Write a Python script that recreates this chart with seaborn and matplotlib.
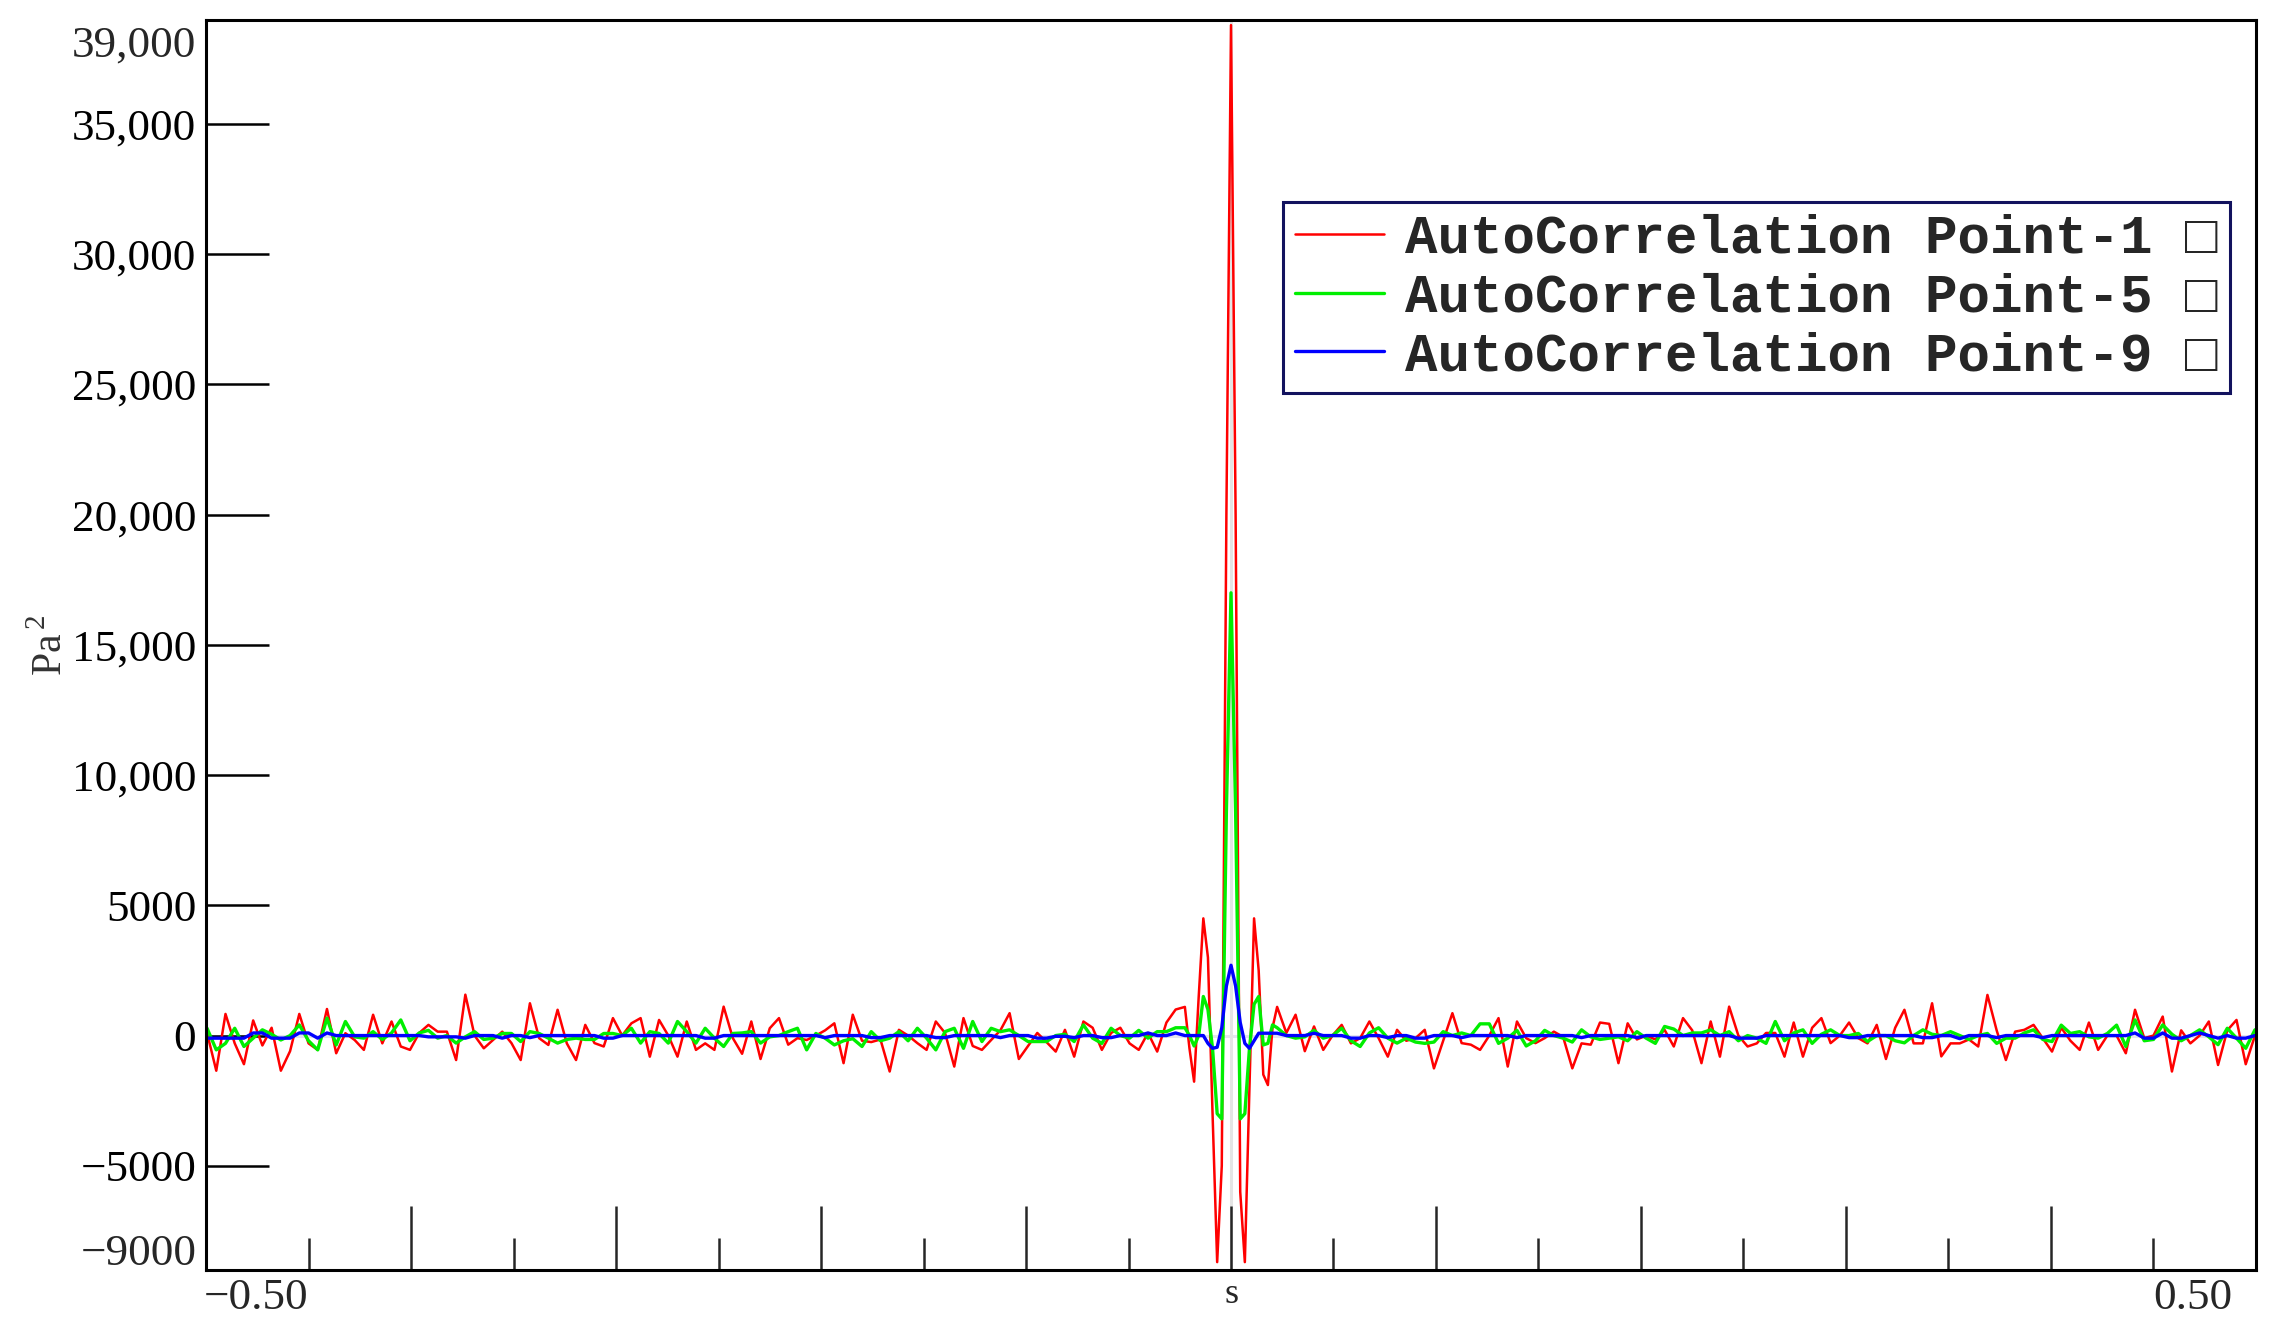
import numpy as np
import matplotlib.pyplot as plt
import seaborn as sns
from matplotlib.font_manager import FontProperties

# lag axis (s): 0.005 s steps in the tails, 0.0025 s around zero lag
lag_left = np.round(-0.555 + 0.005 * np.arange(106), 4)
lag_mid = np.round(-0.025 + 0.0025 * np.arange(21), 4)
lag_right = np.round(0.030 + 0.005 * np.arange(106), 4)

# AutoCorrelation Point-1 (Pa^2)
red_left = [100, -1350, 830, -300, -1100, 580, -380, 300, -1350, -600,
            830, -300, -550, 1020, -680, 90, -170, -550, 800, -300,
            540, -420, -550, 100, 410, 150, 150, -940, 1570, 0,
            -490, -170, 150, -290, -940, 1240, -100, -360, 990, -300,
            -940, 410, -290, -420, 670, 0, 470, 670, -810, 600,
            0, -810, 540, -550, -300, -550, 1110, -100, -700, 540,
            -900, 280, 670, -350, -100, -170, 0, 200, 470, -1060,
            800, -200, -250, -150, -1380, 220, 0, -290, -550, 540,
            100, -1190, 670, -400, -550, -170, 200, 860, -900, -400,
            100, -250, -615, 220, -810, 540, 300, -550, 100, 300,
            -300, -550, 100, -615, 500, 1000]
red_mid = [1100, -500, -1770, 1500, 4500, 3000, -3000, -8700, -5000, 20000, 38800,
           20000, -6000, -8700, -2000, 4500, 2500, -1500, -1900, 300, 1100]
red_right = [100, 800, -600, 350, -550, 0, 410, -300, -100, 540,
             -100, -810, 220, -200, -100, 220, -1260, -200, 860, -290,
             -350, -550, 0, 670, -1190, 540, -100, -290, -100, 150,
             -50, -1260, -300, -350, 500, 450, -1060, 470, -150, 0,
             -150, 220, -420, 670, 200, -1060, 540, -810, 1110, 0,
             -420, -300, 100, 100, -810, 500, -810, 300, 670, -290,
             0, 500, -100, -300, 410, -900, 300, 990, -300, -300,
             1240, -800, -300, -300, -150, -420, 1560, 200, -940, 150,
             220, 410, -100, -615, 300, -200, -550, 500, -550, 0,
             0, -680, 990, -100, 0, 730, -1380, 200, -300, 0,
             540, -1130, 200, 600, -1100, 0]

# AutoCorrelation Point-5
green_left = [280, -550, -300, 280, -420, -100, 220, 50, -170, 0,
              410, -200, -550, 670, -360, 540, -50, -100, 150, -150,
              100, 600, -200, 100, 200, -100, 0, -290, -50, 150,
              -150, -100, 80, 80, -230, 150, 80, -100, -290, -150,
              -100, -150, -150, 80, 80, 0, 280, -290, 150, 80,
              -290, 540, 150, -290, 280, -100, -420, 80, 100, 150,
              -290, -50, 0, 150, 280, -550, 80, -100, -360, -200,
              -120, -420, 150, -200, -100, 150, -200, 280, -100, -550,
              150, 280, -490, 540, -230, 280, 150, 220, 0, -230,
              -230, -230, 0, 50, -230, 410, -100, -300, 280, 0,
              -100, 200, -100, 150, 150, 300]
green_mid = [300, 0, -400, 0, 1500, 1000, -500, -3000, -3200, 8600, 17000,
             8600, -3200, -3000, -500, 1200, 1500, -360, -300, 410, 300]
green_right = [0, -100, -50, 200, -100, 0, 280, -200, -420, 100,
               300, -100, -290, -100, -250, -300, -250, 150, 0, 100,
               0, 450, 450, -300, -100, 200, -400, -200, 200, 0,
               -100, -250, 220, -50, -150, -100, -50, -200, 150, -100,
               -300, 350, 250, 0, 100, 100, 220, 0, 150, -200,
               0, -100, -300, 540, -200, 100, 220, -300, 50, 220,
               0, 0, 80, -230, 0, 0, -200, -280, 0, 220,
               50, 0, 150, 0, -150, 0, 80, -300, -100, -100,
               100, 220, -150, -230, 400, 80, 150, -50, -100, 80,
               400, -420, 600, -200, -150, 410, 50, -200, 0, 220,
               -50, -350, 280, -100, -490, 220]

# AutoCorrelation Point-9
blue_left = [-100, -100, -100, -100, -100, 100, 100, -100, -100, -100,
             100, 100, -100, 100, 0, 0, 0, 0, 0, 0,
             0, 0, 0, 0, -50, -50, -50, -50, -100, 0,
             0, 0, -100, 0, 0, -80, 0, 0, 0, 0,
             0, 0, 0, -100, -100, 0, 0, 0, 0, 0,
             0, 0, 0, 0, -100, -100, 0, 0, 0, 0,
             0, 0, 0, 0, 0, 0, 0, -80, 0, 0,
             0, 0, -80, -80, 0, 0, 0, 0, 0, -80,
             -80, 0, 0, 0, 0, 0, -80, 0, 0, 0,
             -100, -100, -30, -30, -80, 0, 0, -80, -80, 0,
             0, 0, 100, 0, 0, 100]
blue_mid = [0, 0, 0, 0, 0, -300, -490, -450, 300, 1900, 2700,
            1900, 500, -300, -490, -200, 90, 90, 90, 90, 90]
blue_right = [0, 0, 0, 90, 0, 0, 0, -100, -100, 0,
              0, -80, 0, 0, -100, -100, 0, 0, 0, -80,
              0, 0, 0, 0, 0, -80, 0, 0, 0, 0,
              0, 0, -80, 0, 0, 0, 0, 0, -80, 0,
              0, 0, 0, 0, 0, 0, 0, 0, 0, -100,
              -100, -100, 0, 0, 0, 0, 0, 0, 0, 0,
              0, -80, -80, 0, 0, 0, 0, 0, 0, -80,
              -80, 0, 0, -120, 0, 0, 0, -80, 0, 0,
              0, 0, -80, 0, 0, 0, 0, 0, 0, 0,
              0, 0, 100, -100, -100, 100, -100, -100, 0, 100,
              0, -100, 0, -100, -100, 0]

series_names = ['AutoCorrelation Point-1 \u25a1',
                'AutoCorrelation Point-5 \u25a1',
                'AutoCorrelation Point-9 \u25a1']

y_major = [-5000, 0, 5000, 10000, 15000, 20000, 25000, 30000, 35000]
y_major_labels = ['\u22125000', '0', '5000', '10,000', '15,000', '20,000',
                  '25,000', '30,000', '35,000']

sns.set_style('white')
plt.rcParams['font.family'] = ['Liberation Serif', 'DejaVu Serif']
plt.rcParams['mathtext.fontset'] = 'custom'
plt.rcParams['mathtext.rm'] = 'Liberation Serif'

lag = np.concatenate([lag_left, lag_mid, lag_right])
red = np.concatenate([red_left, red_mid, red_right])
green = np.concatenate([green_left, green_mid, green_right])
blue = np.concatenate([blue_left, blue_mid, blue_right])

fig = plt.figure(figsize=(22.79, 13.27), dpi=100)
ax = fig.add_axes([0.0904, 0.043, 0.8995, 0.942])

# light zero lines behind the curves
ax.axhline(0, color='#e4e4ee', lw=2.2, zorder=0)
ax.axvline(0, color='#e4e4e4', lw=2.2, zorder=0)

sns.lineplot(x=lag, y=red, color='#ff0000', lw=1.8, estimator=None,
             label=series_names[0], ax=ax)
sns.lineplot(x=lag, y=green, color='#00ee00', lw=2.4, estimator=None,
             label=series_names[1], ax=ax)
sns.lineplot(x=lag, y=blue, color='#0000ff', lw=2.4, estimator=None,
             label=series_names[2], ax=ax)

ax.set_xlim(-0.5 - 1 / 18, 0.5 + 1 / 18)
ax.set_ylim(-9000, 39000)

for sp in ax.spines.values():
    sp.set_visible(True)
    sp.set_color('black')
    sp.set_linewidth(2.2)

# y ticks drawn inward from the left spine
ax.set_yticks(y_major, y_major_labels)
ax.tick_params(axis='y', which='major', direction='in', length=45, width=1.8,
               pad=7, labelsize=32.5, colors='black', left=True, right=False)
ax.annotate('39,000', xy=(0, 39000), xycoords=('axes fraction', 'data'),
            xytext=(-7, -4), textcoords='offset points', ha='right', va='top',
            fontsize=32.5)
ax.annotate('\u22129000', xy=(0, -9000), xycoords=('axes fraction', 'data'),
            xytext=(-7, -3), textcoords='offset points', ha='right', va='bottom',
            fontsize=32.5)

# x ticks: long / short alternating, 18 intervals between -0.5 and 0.5
x_long = [-0.5 + (2 * i + 1) / 18 for i in range(9)]
x_short = [-0.5 + 2 * i / 18 for i in range(10)]
ax.set_xticks(x_long, [''] * 4 + ['s'] + [''] * 4)
ax.set_xticks(x_short, ['\u22120.50'] + [''] * 8 + ['0.50'], minor=True)
ax.tick_params(axis='x', which='major', direction='in', length=46, width=1.8,
               pad=6, labelsize=32.5, bottom=True, top=False)
ax.tick_params(axis='x', which='minor', direction='in', length=23, width=1.8,
               pad=6, labelsize=32.5, bottom=True, top=False)
xmin_labels = ax.get_xminorticklabels()
xmin_labels[0].set_ha('right')
xmin_labels[-1].set_ha('left')
ax.get_xmajorticklabels()[4].set_fontsize(26)

ax.set_xlabel('')
ax.set_ylabel(r'Pa$^{\,2}$', fontsize=30, color='#333333')
ax.yaxis.set_label_coords(-0.066, 0.5)

leg = ax.legend(loc='upper left', bbox_to_anchor=(0.5254, 0.8544),
                frameon=True, fancybox=False, framealpha=1,
                edgecolor='#12125e', borderaxespad=0,
                prop=FontProperties(family=['Liberation Mono', 'DejaVu Sans'],
                                    size=39, weight='bold'),
                handlelength=1.64, handletextpad=0.4, borderpad=0.22,
                labelspacing=0.16)
leg.get_frame().set_linewidth(2.2)

fig.savefig('out.png', dpi=100)
